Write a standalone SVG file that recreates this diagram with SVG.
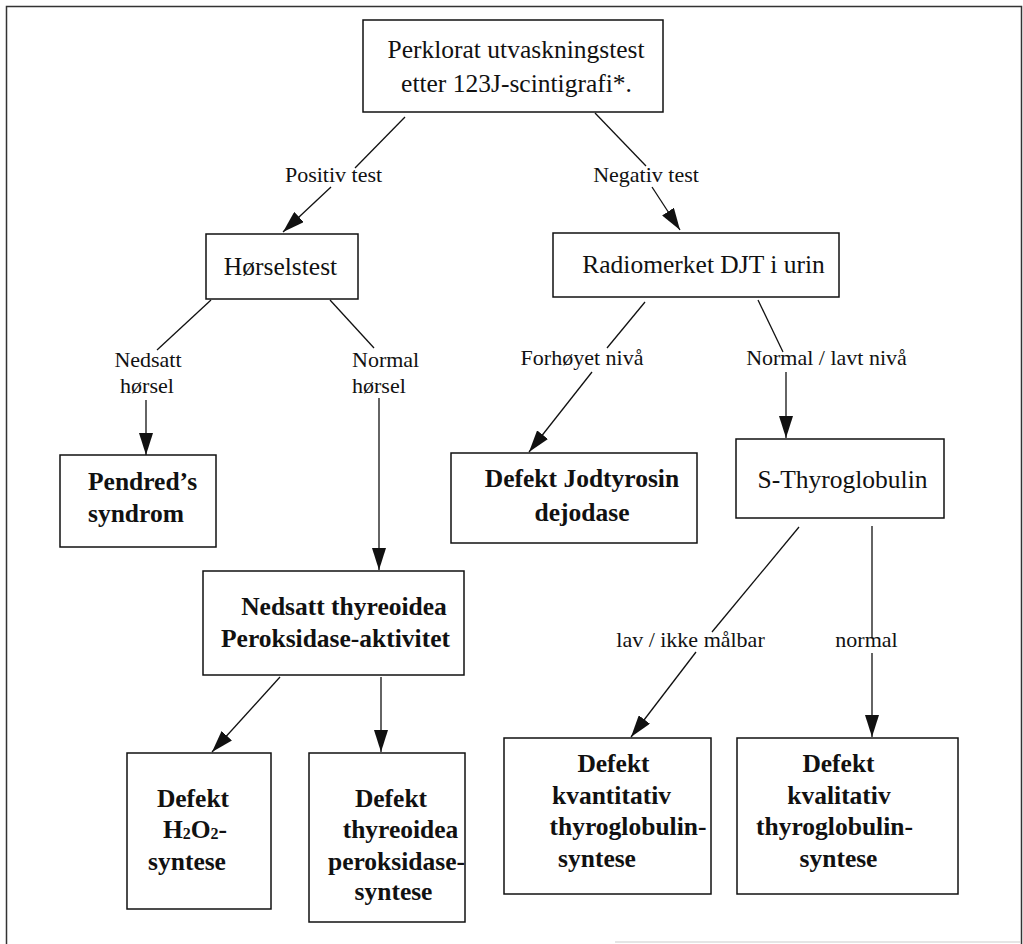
<svg xmlns="http://www.w3.org/2000/svg" width="1023" height="944" viewBox="0 0 1023 944">
<style>
.box{fill:#fff;stroke:#111;stroke-width:1.5}
.t{font-family:"Liberation Serif","Times New Roman",serif;font-size:25.5px;fill:#111;text-anchor:middle}
.b{font-weight:bold}
.l{font-family:"Liberation Serif","Times New Roman",serif;font-size:22px;fill:#111;text-anchor:middle}
.c{stroke:#111;stroke-width:1.3;fill:none}
.a{marker-end:url(#ah)}
.sub{font-size:16px}
</style>
<defs>
<marker id="ah" markerUnits="userSpaceOnUse" markerWidth="23" markerHeight="14" refX="22" refY="7" orient="auto">
<path d="M0,0 L22,7 L0,14 z" fill="#111"/>
</marker>
</defs>
<rect width="1023" height="944" fill="#fff"/>
<g id="frame">
<path d="M6.5,944 V6.5 H1021.5 V944" fill="none" stroke="#333" stroke-width="1.5"/>
<line x1="615" y1="942" x2="1021" y2="942" stroke="#ccc" stroke-width="1.2"/>
</g>
<g id="connectors">
<line class="c" x1="405" y1="117" x2="355" y2="168"/>
<line class="c a" x1="331" y1="187" x2="283" y2="232"/>
<line class="c" x1="595" y1="113" x2="646" y2="166"/>
<line class="c a" x1="652" y1="187" x2="680" y2="230"/>
<line class="c" x1="211" y1="300" x2="157" y2="350"/>
<line class="c a" x1="146" y1="400" x2="146" y2="455"/>
<line class="c" x1="330" y1="300" x2="374" y2="348"/>
<line class="c a" x1="379" y1="398" x2="379" y2="570"/>
<line class="c" x1="645" y1="302" x2="607" y2="348"/>
<line class="c a" x1="592" y1="372" x2="529" y2="452"/>
<line class="c" x1="758" y1="300" x2="783" y2="352"/>
<line class="c a" x1="786" y1="372" x2="786" y2="438"/>
<line class="c a" x1="280" y1="677" x2="212" y2="752"/>
<line class="c a" x1="381" y1="677" x2="381" y2="752"/>
<line class="c" x1="799" y1="527" x2="712" y2="632"/>
<line class="c a" x1="696" y1="652" x2="631" y2="737"/>
<line class="c" x1="872" y1="526" x2="872" y2="638"/>
<line class="c a" x1="872" y1="653" x2="872" y2="737"/>
</g>
<g id="labels">
<text class="l" x="333.5" y="182">Positiv test</text>
<text class="l" x="646" y="182">Negativ test</text>
<text class="l" x="148" y="367">Nedsatt</text>
<text class="l" x="147" y="393">hørsel</text>
<text class="l" x="352" y="367" style="text-anchor:start">Normal</text>
<text class="l" x="352" y="393" style="text-anchor:start">hørsel</text>
<text class="l" x="582" y="365">Forhøyet nivå</text>
<text class="l" x="826.5" y="365">Normal / lavt nivå</text>
<text class="l" x="690.5" y="647">lav / ikke målbar</text>
<text class="l" x="866.5" y="647">normal</text>
</g>
<g id="n-perklorat">
<rect class="box" x="363" y="20" width="300" height="92"/>
<text class="t" x="516" y="58">Perklorat utvaskningstest</text>
<text class="t" x="516.5" y="92">etter 123J-scintigrafi*.</text>
</g>
<g id="n-horselstest">
<rect class="box" x="206" y="234" width="152" height="65"/>
<text class="t" x="280.5" y="275">Hørselstest</text>
</g>
<g id="n-radiomerket">
<rect class="box" x="553" y="233" width="286" height="64"/>
<text class="t" x="703.5" y="273">Radiomerket DJT i urin</text>
</g>
<g id="n-pendred">
<rect class="box" x="60" y="455" width="156" height="92"/>
<text class="t b" x="88" y="490" style="text-anchor:start">Pendred’s</text>
<text class="t b" x="88" y="522" style="text-anchor:start">syndrom</text>
</g>
<g id="n-jodtyrosin">
<rect class="box" x="451" y="453" width="246" height="90"/>
<text class="t b" x="582" y="487">Defekt Jodtyrosin</text>
<text class="t b" x="582" y="521">dejodase</text>
</g>
<g id="n-sthyroglobulin">
<rect class="box" x="736" y="439" width="208" height="79"/>
<text class="t" x="842.5" y="488">S-Thyroglobulin</text>
</g>
<g id="n-nedsatt">
<rect class="box" x="203" y="571" width="261" height="104"/>
<text class="t b" x="344" y="615">Nedsatt thyreoidea</text>
<text class="t b" x="335.5" y="647">Peroksidase-aktivitet</text>
</g>
<g id="n-h2o2">
<rect class="box" x="127" y="753" width="144" height="156"/>
<text class="t b" x="193" y="807">Defekt</text>
<text class="t b" x="195" y="838">H<tspan class="sub" dy="1">2</tspan><tspan dy="-1">O</tspan><tspan class="sub" dy="1">2</tspan><tspan dy="-1">-</tspan></text>
<text class="t b" x="187" y="870">syntese</text>
</g>
<g id="n-tpo">
<rect class="box" x="309" y="753" width="156" height="169"/>
<text class="t b" x="391" y="807">Defekt</text>
<text class="t b" x="400.5" y="838">thyreoidea</text>
<text class="t b" x="396.5" y="870">peroksidase-</text>
<text class="t b" x="393.5" y="900">syntese</text>
</g>
<g id="n-kvantitativ">
<rect class="box" x="504" y="738" width="207" height="156"/>
<text class="t b" x="613.5" y="772">Defekt</text>
<text class="t b" x="611.5" y="804">kvantitativ</text>
<text class="t b" x="628" y="835">thyroglobulin-</text>
<text class="t b" x="597" y="867">syntese</text>
</g>
<g id="n-kvalitativ">
<rect class="box" x="737" y="738" width="221" height="156"/>
<text class="t b" x="838.5" y="772">Defekt</text>
<text class="t b" x="839" y="804">kvalitativ</text>
<text class="t b" x="834.5" y="835">thyroglobulin-</text>
<text class="t b" x="838.5" y="867">syntese</text>
</g>
</svg>
